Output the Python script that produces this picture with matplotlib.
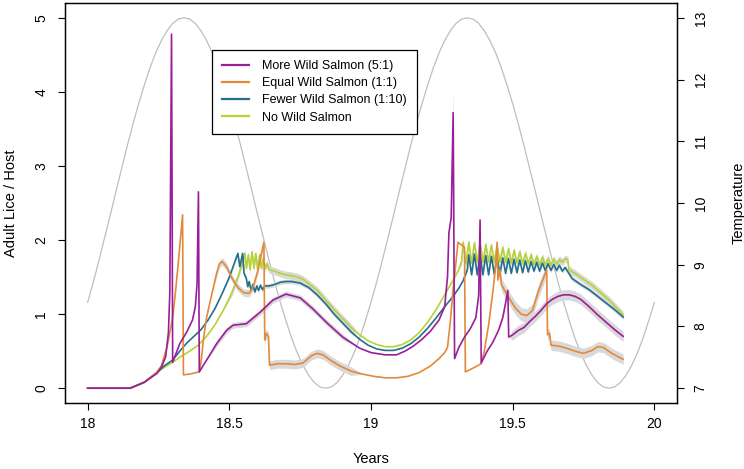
import numpy as np
import matplotlib
matplotlib.use("Agg")
import matplotlib.pyplot as plt

plt.rcParams['font.family'] = ['Liberation Sans', 'DejaVu Sans']

# temperature curve (grey), read every 0.02 years from 18 to 20
temp_years = np.round(np.arange(18.0, 20.0001, 0.02), 2)
temp_one_year = [8.39, 8.72, 9.07, 9.44, 9.81, 10.19, 10.56, 10.93, 11.28, 11.61,
                 11.91, 12.19, 12.43, 12.63, 12.79, 12.91, 12.98, 13.00, 12.98, 12.91,
                 12.79, 12.63, 12.43, 12.19, 11.91, 11.61, 11.28, 10.93, 10.56, 10.19,
                 9.81, 9.44, 9.07, 8.72, 8.39, 8.09, 7.81, 7.57, 7.37, 7.21,
                 7.09, 7.02, 7.00, 7.02, 7.09, 7.21, 7.37, 7.57, 7.81, 8.09]
temperature = temp_one_year + temp_one_year + [8.39]

# More Wild Salmon (5:1)
more_x = [18.00, 18.15, 18.20, 18.245, 18.26, 18.275, 18.285, 18.29, 18.296, 18.300,
          18.325, 18.35, 18.37, 18.38, 18.386, 18.391, 18.394, 18.42, 18.455, 18.49,
          18.513, 18.56, 18.61, 18.654, 18.70, 18.75, 18.795, 18.845, 18.90, 18.96,
          19.00, 19.05, 19.09, 19.12, 19.15, 19.18, 19.21, 19.24, 19.26, 19.27,
          19.275, 19.283, 19.29, 19.295, 19.31, 19.33, 19.35, 19.37, 19.38, 19.385,
          19.389, 19.41, 19.43, 19.45, 19.465, 19.475, 19.483, 19.486, 19.50, 19.52,
          19.54, 19.56, 19.58, 19.60, 19.62, 19.64, 19.66, 19.68, 19.70, 19.72,
          19.74, 19.77, 19.80, 19.83, 19.86, 19.89]
more_y = [0.00, 0.00, 0.08, 0.20, 0.28, 0.42, 0.75, 1.30, 4.78, 0.35,
          0.60, 0.76, 0.92, 1.10, 1.40, 2.65, 0.22, 0.38, 0.60, 0.78,
          0.85, 0.87, 1.03, 1.19, 1.27, 1.22, 1.07, 0.88, 0.69, 0.54,
          0.48, 0.45, 0.45, 0.50, 0.57, 0.66, 0.77, 0.92, 1.10, 1.50,
          2.10, 2.30, 3.72, 0.40, 0.55, 0.69, 0.80, 0.95, 1.25, 2.27,
          0.34, 0.50, 0.62, 0.78, 0.95, 1.15, 1.32, 0.69, 0.72, 0.78,
          0.82, 0.90, 0.97, 1.05, 1.14, 1.20, 1.24, 1.26, 1.26, 1.24,
          1.20, 1.10, 0.99, 0.89, 0.79, 0.70]

# Equal Wild Salmon (1:1)
equal_x = [18.00, 18.15, 18.20, 18.24, 18.26, 18.28, 18.30, 18.31, 18.32, 18.335,
           18.338, 18.36, 18.394, 18.40, 18.41, 18.42, 18.44, 18.455, 18.465, 18.475,
           18.49, 18.51, 18.53, 18.55, 18.57, 18.585, 18.60, 18.615, 18.622, 18.625,
           18.63, 18.638, 18.642, 18.67, 18.70, 18.73, 18.76, 18.79, 18.81, 18.83,
           18.86, 18.89, 18.93, 18.97, 19.01, 19.05, 19.09, 19.13, 19.17, 19.21,
           19.24, 19.26, 19.27, 19.28, 19.29, 19.30, 19.307, 19.33, 19.333, 19.36,
           19.389, 19.40, 19.415, 19.43, 19.44, 19.445, 19.448, 19.455, 19.46, 19.47,
           19.49, 19.51, 19.53, 19.55, 19.57, 19.59, 19.61, 19.62, 19.623, 19.63,
           19.635, 19.66, 19.69, 19.72, 19.75, 19.78, 19.80, 19.82, 19.85, 19.89]
equal_y = [0.00, 0.00, 0.08, 0.20, 0.30, 0.55, 0.95, 1.30, 1.70, 2.34,
           0.18, 0.19, 0.22, 0.35, 0.70, 0.96, 1.30, 1.55, 1.68, 1.71,
           1.64, 1.48, 1.36, 1.29, 1.28, 1.38, 1.58, 1.85, 1.97, 0.65,
           0.74, 0.70, 0.31, 0.33, 0.33, 0.32, 0.34, 0.44, 0.47, 0.45,
           0.37, 0.30, 0.23, 0.19, 0.16, 0.14, 0.14, 0.16, 0.21, 0.30,
           0.40, 0.48, 0.55, 0.90, 1.35, 1.70, 1.97, 1.90, 0.22, 0.27,
           0.33, 0.50, 0.85, 1.30, 1.65, 1.97, 1.46, 1.60, 1.40, 1.33,
           1.20, 1.08, 1.00, 0.98, 1.05, 1.30, 1.50, 1.60, 0.72, 0.74,
           0.58, 0.57, 0.54, 0.50, 0.47, 0.51, 0.56, 0.55, 0.47, 0.39]

# Fewer Wild Salmon (1:10)
fewer_x = [18.00, 18.15, 18.20, 18.24, 18.27, 18.30, 18.325, 18.35, 18.375, 18.40,
           18.425, 18.45, 18.475, 18.50, 18.515, 18.53, 18.537, 18.547, 18.552, 18.56,
           18.565, 18.57, 18.577, 18.583, 18.59, 18.597, 18.603, 18.61, 18.617, 18.625,
           18.64, 18.66, 18.68, 18.70, 18.72, 18.75, 18.78, 18.81, 18.84, 18.87,
           18.90, 18.93, 18.96, 18.99, 19.02, 19.05, 19.08, 19.11, 19.14, 19.17,
           19.20, 19.23, 19.26, 19.29, 19.31, 19.325, 19.34,
           19.345, 19.355, 19.365, 19.375, 19.385, 19.395, 19.405, 19.415, 19.425, 19.435,
           19.445, 19.455, 19.465, 19.475, 19.485, 19.495, 19.505, 19.515, 19.525, 19.535,
           19.545, 19.555, 19.565, 19.575, 19.585, 19.595, 19.605, 19.615, 19.625, 19.635,
           19.645, 19.655, 19.665, 19.675, 19.685, 19.695,
           19.71, 19.74, 19.77, 19.80, 19.83, 19.86, 19.89]
fewer_y = [0.00, 0.00, 0.08, 0.20, 0.30, 0.38, 0.50, 0.61, 0.70, 0.79,
           0.92, 1.08, 1.28, 1.50, 1.66, 1.82, 1.64, 1.82, 1.55, 1.48,
           1.37, 1.44, 1.32, 1.40, 1.30, 1.38, 1.32, 1.39, 1.33, 1.38,
           1.38, 1.40, 1.43, 1.44, 1.44, 1.42, 1.36, 1.26, 1.14, 1.00,
           0.88, 0.76, 0.66, 0.58, 0.53, 0.51, 0.51, 0.54, 0.60, 0.69,
           0.81, 0.95, 1.10, 1.24, 1.35, 1.45, 1.60,
           1.80, 1.53, 1.81, 1.53, 1.80, 1.53, 1.79, 1.53, 1.78, 1.54,
           1.77, 1.54, 1.76, 1.55, 1.75, 1.55, 1.74, 1.56, 1.73, 1.56,
           1.72, 1.57, 1.71, 1.58, 1.70, 1.58, 1.69, 1.59, 1.68, 1.59,
           1.67, 1.59, 1.66, 1.58, 1.63, 1.57,
           1.48, 1.40, 1.33, 1.24, 1.15, 1.06, 0.96]

# No Wild Salmon
none_x = [18.00, 18.15, 18.20, 18.24, 18.27, 18.30, 18.33, 18.36, 18.39, 18.42,
          18.45, 18.48, 18.51, 18.53, 18.545, 18.555, 18.56, 18.567, 18.573, 18.58,
          18.587, 18.593, 18.60, 18.607, 18.613, 18.62, 18.627, 18.633, 18.64, 18.66,
          18.68, 18.70, 18.72, 18.74, 18.76, 18.78, 18.81, 18.84, 18.87, 18.90,
          18.93, 18.96, 18.99, 19.02, 19.05, 19.08, 19.11, 19.14, 19.17, 19.20,
          19.23, 19.26, 19.29, 19.31, 19.32,
          19.325, 19.335, 19.345, 19.355, 19.365, 19.375, 19.385, 19.395, 19.405, 19.415,
          19.425, 19.435, 19.445, 19.455, 19.465, 19.475, 19.485, 19.495, 19.505, 19.515,
          19.525, 19.535, 19.545, 19.555, 19.565, 19.575, 19.585, 19.595, 19.605, 19.615,
          19.625, 19.635, 19.645, 19.655, 19.665, 19.675, 19.685, 19.695, 19.698,
          19.72, 19.75, 19.78, 19.81, 19.84, 19.865, 19.89]
none_y = [0.00, 0.00, 0.08, 0.20, 0.28, 0.35, 0.43, 0.50, 0.58, 0.70,
          0.86, 1.06, 1.30, 1.50, 1.68, 1.82, 1.62, 1.80, 1.60, 1.84,
          1.62, 1.82, 1.60, 1.80, 1.62, 1.76, 1.62, 1.68, 1.60, 1.58,
          1.55, 1.53, 1.52, 1.50, 1.47, 1.41, 1.32, 1.19, 1.06, 0.94,
          0.82, 0.72, 0.64, 0.59, 0.56, 0.56, 0.59, 0.65, 0.75, 0.89,
          1.06, 1.26, 1.46, 1.60, 1.72,
          1.97, 1.68, 1.97, 1.69, 1.96, 1.70, 1.95, 1.70, 1.94, 1.70,
          1.93, 1.70, 1.92, 1.70, 1.90, 1.70, 1.88, 1.69, 1.86, 1.69,
          1.84, 1.68, 1.82, 1.68, 1.80, 1.67, 1.78, 1.66, 1.77, 1.66,
          1.75, 1.66, 1.74, 1.67, 1.74, 1.70, 1.75, 1.73, 1.60,
          1.55, 1.47, 1.39, 1.29, 1.19, 1.09, 0.99]

# grey uncertainty bands: (from, to, half width)
more_band = [(18.45, 18.95, 0.04), (19.285, 19.293, 0.35), (19.49, 19.89, 0.07)]
equal_band = [(18.45, 18.62, 0.05), (18.62, 18.95, 0.06), (19.45, 19.62, 0.09), (19.62, 19.89, 0.07)]
fewer_band = [(18.50, 18.95, 0.03), (19.34, 19.89, 0.03)]
none_band = [(18.50, 18.95, 0.05), (19.32, 19.89, 0.05)]

labels = ['More Wild Salmon (5:1)', 'Equal Wild Salmon (1:1)',
          'Fewer Wild Salmon (1:10)', 'No Wild Salmon']
colors = ['#9a1e9a', '#e3893a', '#23708c', '#b5d334']

fig = plt.figure(figsize=(7.44, 4.69), dpi=100)
ax = fig.add_axes([65 / 744, 1 - 403 / 469, 612 / 744, 400 / 469])
ax2 = ax.twinx()
ax.set_zorder(2)
ax.patch.set_visible(False)

ax2.plot(temp_years, temperature, color='#bebebe', lw=0.9)
ax2.set_ylim(7 - 0.24, 13 + 0.24)
ax2.set_yticks(range(7, 14))
ax2.set_ylabel('Temperature', fontsize=10.5)
ax2.yaxis.set_label_coords(1.089, 0.5)

series = [(more_x, more_y, more_band), (equal_x, equal_y, equal_band),
          (fewer_x, fewer_y, fewer_band), (none_x, none_y, none_band)]

for xs, ys, band in series:
    xs = np.array(xs)
    ys = np.array(ys)
    err = np.zeros(len(xs))
    for t0, t1, hw in band:
        err[(xs >= t0) & (xs <= t1)] = hw
    ax.fill_between(xs, ys - err, ys + err, color='#d9d9d9', lw=0, zorder=1)

handles = []
for i in [3, 2, 1, 0]:
    xs, ys, band = series[i]
    h, = ax.plot(xs, ys, color=colors[i], lw=1.2, zorder=3)
    handles.append((i, h))
handles = [h for i, h in sorted(handles)]

ax.set_xlim(17.92, 20.08)
ax.set_ylim(-0.2, 5.2)
ax.set_xticks([18, 18.5, 19, 19.5, 20])
ax.set_xticklabels(['18', '18.5', '19', '19.5', '20'])
ax.set_yticks(range(0, 6))
ax.set_xlabel('Years', fontsize=10.5)
ax.xaxis.set_label_coords(0.5, -0.123)
ax.set_ylabel('Adult Lice / Host', fontsize=10.5)
ax.yaxis.set_label_coords(-0.076, 0.5)

for a in (ax, ax2):
    a.tick_params(length=5, width=0.8, labelsize=10, direction='out')
    for s in a.spines.values():
        s.set_linewidth(0.9)
ax.tick_params(axis='x', pad=5)
ax.tick_params(axis='y', pad=7)
ax2.tick_params(axis='y', pad=7)
for lab in ax.get_yticklabels():
    lab.set_rotation(90)
    lab.set_va('center')
for lab in ax2.get_yticklabels():
    lab.set_rotation(90)
    lab.set_va('center')

leg = ax.legend(handles, labels, loc='upper left', bbox_to_anchor=(0.24, 0.8825),
                borderaxespad=0, fontsize=9, frameon=True, fancybox=False,
                edgecolor='black', framealpha=1, handlelength=2.2,
                handletextpad=1.0, labelspacing=0.42, borderpad=0.8)
leg.get_frame().set_linewidth(0.9)
for line in leg.get_lines():
    line.set_linewidth(1.6)

fig.savefig('out.png', dpi=100)
